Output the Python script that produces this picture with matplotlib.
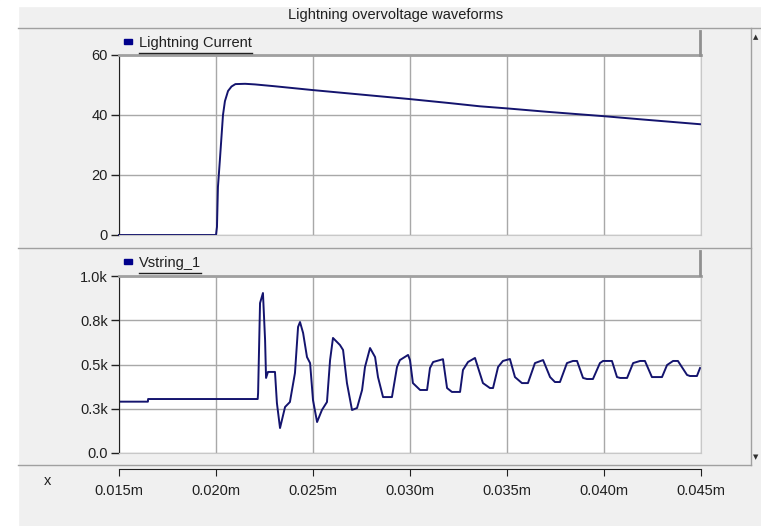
import matplotlib
matplotlib.use("Agg")
import matplotlib.pyplot as plt
from matplotlib.patches import Rectangle
from matplotlib.lines import Line2D

plt.rcParams['font.family'] = ['Liberation Sans', 'DejaVu Sans']

W, H = 761, 526

# lightning current (kA) vs time
t_cur = [0.0150, 0.0200, 0.02005, 0.0201, 0.0202, 0.02036, 0.02046, 0.02062, 0.0208,
         0.0210, 0.0215, 0.0220, 0.0230, 0.0250, 0.0270, 0.0300, 0.0320, 0.0336,
         0.0350, 0.0370, 0.0400, 0.0420, 0.0450]
i_cur = [0.0, 0.0, 2.7, 16.0, 25.0, 40.0, 44.6, 48.0, 49.5,
         50.3, 50.4, 50.2, 49.6, 48.3, 47.1, 45.3, 44.0, 42.9,
         42.2, 41.1, 39.6, 38.5, 36.9]

# string voltage (V) vs time
t_v = [0.0150, 0.01649, 0.01650, 0.02215, 0.02217, 0.02227, 0.02242, 0.02253, 0.02258,
       0.02268, 0.02304, 0.02314, 0.02330, 0.02356, 0.02381, 0.02407, 0.02423, 0.02433,
       0.02449, 0.02469, 0.02485, 0.02500, 0.02521, 0.02546, 0.02572, 0.02588, 0.02603,
       0.02639, 0.02655, 0.02675, 0.02701, 0.02727, 0.02753, 0.02768, 0.02794, 0.02820,
       0.02835, 0.02861, 0.02907, 0.02933, 0.02948, 0.02990, 0.03000, 0.03015, 0.03052,
       0.03088, 0.03103, 0.03119, 0.03170, 0.03191, 0.03216, 0.03258, 0.03273, 0.03299,
       0.03335, 0.03376, 0.03412, 0.03428, 0.03454, 0.03479, 0.03515, 0.03541, 0.03577,
       0.03608, 0.03644, 0.03686, 0.03722, 0.03747, 0.03773, 0.03809, 0.03840, 0.03861,
       0.03892, 0.03912, 0.03943, 0.03979, 0.03995, 0.04041, 0.04067, 0.04083, 0.04119,
       0.04150, 0.04186, 0.04211, 0.04247, 0.04299, 0.04325, 0.04356, 0.04381, 0.04428,
       0.04443, 0.04479, 0.04495]
v_str = [290, 290, 305, 305, 339, 847, 904, 638, 424,
         458, 458, 282, 141, 260, 288, 452, 712, 740,
         678, 542, 508, 299, 175, 243, 288, 525, 650,
         610, 582, 395, 243, 254, 356, 486, 593, 542,
         429, 316, 316, 486, 525, 554, 525, 395, 356,
         356, 480, 514, 530, 367, 345, 345, 469, 514,
         537, 395, 367, 367, 486, 520, 531, 429, 395,
         395, 508, 525, 429, 401, 401, 508, 520, 520,
         424, 418, 418, 508, 520, 520, 429, 424, 424,
         508, 520, 520, 429, 429, 497, 520, 520, 441,
         435, 435, 480]

x_ticks = [0.015, 0.020, 0.025, 0.030, 0.035, 0.040, 0.045]
x_labels = ['0.015m', '0.020m', '0.025m', '0.030m', '0.035m', '0.040m', '0.045m']
i_ticks = [0, 20, 40, 60]
v_ticks = [0, 250, 500, 750, 1000]
v_labels = ['0.0', '0.3k', '0.5k', '0.8k', '1.0k']

line_col = '#14146e'
grid_col = '#a8a8a8'
bg = '#f0f0f0'


def rect(x0, y0, x1, y1):
    return [x0 / W, 1 - y1 / H, (x1 - x0) / W, (y1 - y0) / H]


def fx(x):
    return x / W


def fy(y):
    return 1 - y / H


fig = plt.figure(figsize=(W / 100, H / 100), dpi=100, facecolor=bg)

# outer white margins
fig.patches.append(Rectangle((0, 0), fx(18), 1, transform=fig.transFigure, color='white', zorder=0))
fig.patches.append(Rectangle((0, fy(6)), 1, 6 / H, transform=fig.transFigure, color='white', zorder=0))

# separators
for y, x1 in [(28, 761), (248, 751), (465, 751)]:
    fig.add_artist(Line2D([fx(18), fx(x1)], [fy(y), fy(y)], color='#a0a0a0', lw=1))
fig.add_artist(Line2D([fx(751), fx(751)], [fy(28), fy(465)], color='#a0a0a0', lw=1))
fig.text(fx(756), fy(37), '\u25b2', fontsize=5, ha='center', va='center', color='#303030',
         family='DejaVu Sans')
fig.text(fx(756), fy(457), '\u25bc', fontsize=5, ha='center', va='center', color='#303030',
         family='DejaVu Sans')

fig.text(fx(396), fy(15), 'Lightning overvoltage waveforms', fontsize=10.5, ha='center', va='center',
         color='#202020')


def style_axes(ax):
    ax.set_facecolor('white')
    ax.set_xlim(0.015, 0.045)
    ax.set_xticks(x_ticks)
    ax.grid(True, color=grid_col, lw=1)
    ax.tick_params(axis='x', length=0, labelbottom=False)
    ax.tick_params(axis='y', direction='out', length=6, width=1, pad=2, labelsize=10.5,
                   colors='#202020')
    ax.spines['left'].set_color('#202020')
    ax.spines['top'].set_color('#a0a0a0')
    ax.spines['top'].set_linewidth(2)
    ax.spines['right'].set_color('#c8c8c8')
    ax.spines['bottom'].set_color('#c8c8c8')
    ax.set_axisbelow(True)


ax1 = fig.add_axes(rect(119, 55, 701, 235))
style_axes(ax1)
ax1.plot(t_cur, i_cur, color=line_col, lw=1.4, clip_on=False)
ax1.set_ylim(0, 60)
ax1.set_yticks(i_ticks)

ax2 = fig.add_axes(rect(119, 276, 701, 453))
style_axes(ax2)
ax2.plot(t_v, v_str, color=line_col, lw=1.4)
ax2.set_ylim(0, 1000)
ax2.set_yticks(v_ticks)
ax2.set_yticklabels(v_labels)

# x axis row
ax3 = fig.add_axes(rect(119, 468, 701, 469))
ax3.set_xlim(0.015, 0.045)
ax3.set_xticks(x_ticks)
ax3.set_xticklabels(x_labels)
ax3.set_yticks([])
ax3.patch.set_visible(False)
for s in ['top', 'left', 'right']:
    ax3.spines[s].set_visible(False)
ax3.spines['bottom'].set_color('#202020')
ax3.tick_params(axis='x', direction='out', length=5, pad=6, labelsize=10.5, colors='#202020')
fig.text(fx(48), fy(481), 'x', fontsize=10.5, ha='center', va='center', color='#202020')

# header bars with legend entries
texts = []
for ytop, ybot, label in [(31, 55, 'Lightning Current'), (251, 275, 'Vstring_1')]:
    fig.add_artist(Line2D([fx(700), fx(700)], [fy(ytop), fy(ybot)], color='#909090', lw=2))
    ymid = (ytop + ybot) / 2
    fig.patches.append(Rectangle((fx(124), fy(ymid + 1)), 8 / W, 5 / H,
                                 transform=fig.transFigure, color='#00008b'))
    texts.append(fig.text(fx(139), fy(ymid + 0.5), label, fontsize=10.5, ha='left',
                          va='center', color='#202020'))

fig.canvas.draw()
for t in texts:
    bb = t.get_window_extent()
    x0, x1 = bb.x0 / W, bb.x1 / W
    yy = (bb.y0 - 2) / H
    fig.add_artist(Line2D([x0, x1], [yy, yy], color='#202020', lw=1))

fig.savefig('out.png', dpi=100, facecolor=bg)
